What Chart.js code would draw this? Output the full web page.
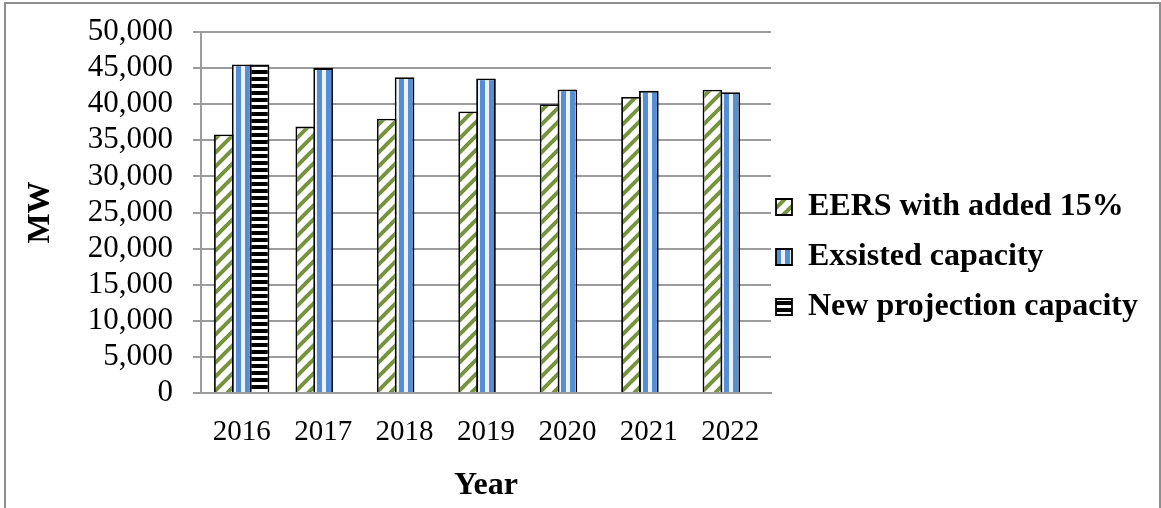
<!DOCTYPE html>
<html>
<head>
<meta charset="utf-8">
<script src="https://cdn.jsdelivr.net/npm/chart.js@4/dist/chart.umd.min.js"></script>
<style>
  html, body { margin: 0; padding: 0; background: #fff; overflow: hidden; }
  #wrap { position: relative; width: 1161px; height: 508px; }
  #frame { position: absolute; left: 4px; top: 2px; width: 1157px; height: 560px; box-sizing: border-box; border: 2px solid #8e8e8e; }
  #chart { position: absolute; left: 0; top: 0; }
</style>
</head>
<body>
<div id="wrap">
  <div id="frame"></div>
  <canvas id="chart" width="1161" height="508"></canvas>
</div>
<script>
// Capacity vs. demand, MW per year
const years = ['2016', '2017', '2018', '2019', '2020', '2021', '2022'];
const eersValues = [35800, 36900, 38000, 39000, 40000, 41000, 42000];
const existedValues = [45500, 45000, 43750, 43550, 42050, 41850, 41650];
const newProjectionValues = [45500, null, null, null, null, null, null];
const seriesNames = ['EERS with added 15%', 'Exsisted capacity', 'New projection capacity'];
const yMin = 0, yMax = 50000, yStep = 5000;

const GROUP = 0.658;   // categoryPercentage
const BAR = 1.1;       // bars overlap a little so borders are shared
const BORDER = 1.8;

Chart.defaults.font.family = "'Times New Roman', 'Liberation Serif', serif";
Chart.defaults.color = '#000';

// small repeating tiles for the hatched fills
function makeTile(kind) {
    const c = document.createElement('canvas');
    const g = c.getContext('2d');
    if (kind === 'diag') {
        c.width = c.height = 14;
        g.fillStyle = '#fff';
        g.fillRect(0, 0, 14, 14);
        g.strokeStyle = '#77933C';
        g.lineWidth = 4;
        g.beginPath();
        [-14, 0, 14].forEach(o => { g.moveTo(o - 1, 15); g.lineTo(o + 15, -1); });
        g.stroke();
    } else if (kind === 'vert') {
        c.width = 9; c.height = 1;
        g.fillStyle = '#EEF3FA';
        g.fillRect(0, 0, 9, 1);
        g.fillStyle = '#558ED5';
        g.fillRect(4, 0, 5, 1);
    } else {
        c.width = 1; c.height = 7;
        g.fillStyle = '#fff';
        g.fillRect(0, 0, 1, 7);
        g.fillStyle = '#000';
        g.fillRect(0, 0, 1, 4);
    }
    return c;
}
const tiles = { diag: makeTile('diag'), vert: makeTile('vert'), horiz: makeTile('horiz') };

// pattern lined up with the left edge of each bar
function fillFor(kind) {
    return (c) => {
        const pat = c.chart.ctx.createPattern(tiles[kind], 'repeat');
        if (c.type !== 'data') return pat;
        const x = c.chart.scales.x;
        if (!x || !x.width) return pat;
        const cat = x.width / years.length;
        const chunk = cat * GROUP / seriesNames.length;
        const left = x.getPixelForValue(c.dataIndex) - cat * GROUP / 2
            + chunk * c.datasetIndex - chunk * (BAR - 1) / 2 + BORDER;
        pat.setTransform(new DOMMatrix().translate(Math.round(left) - 2, 0));
        return pat;
    };
}

// pull the legend column in closer to the plot
const legendShift = {
    id: 'legendShift',
    afterLayout(chart) {
        const lg = chart.legend;
        lg.left -= 13; lg.right -= 13;
        lg.top -= 12; lg.bottom -= 12;
    }
};

const gridColor = '#9c9c9c';

new Chart(document.getElementById('chart'), {
    type: 'bar',
    data: {
        labels: years,
        datasets: [
            { label: seriesNames[0], data: eersValues, backgroundColor: fillFor('diag') },
            { label: seriesNames[1], data: existedValues, backgroundColor: fillFor('vert') },
            { label: seriesNames[2], data: newProjectionValues, backgroundColor: fillFor('horiz') }
        ]
    },
    options: {
        responsive: false,
        animation: false,
        layout: { padding: { left: 6, top: 32, right: 0, bottom: 2 } },
        datasets: {
            bar: {
                categoryPercentage: GROUP,
                barPercentage: BAR,
                borderColor: '#000',
                borderWidth: BORDER
            }
        },
        plugins: {
            tooltip: { enabled: false },
            legend: {
                position: 'right',
                maxWidth: 420,
                labels: {
                    font: { size: 32, weight: 'bold' },
                    boxWidth: 16,
                    boxHeight: 16,
                    padding: 18,
                    color: '#000'
                }
            }
        },
        scales: {
            x: {
                grid: { display: false, drawTicks: false },
                border: { display: true, color: gridColor, width: 2 },
                ticks: { font: { size: 29 }, padding: 22, color: '#000' },
                title: {
                    display: true,
                    text: 'Year',
                    font: { size: 32, weight: 'bold' },
                    padding: { top: 0, bottom: 1 },
                    color: '#000'
                },
                afterFit: (scale) => { scale.height = 113; }
            },
            y: {
                min: yMin,
                max: yMax,
                grid: { color: gridColor, lineWidth: 2, tickLength: 8 },
                border: { display: true, color: gridColor, width: 2 },
                ticks: {
                    stepSize: yStep,
                    autoSkip: false,
                    font: { size: 31 },
                    padding: 20,
                    color: '#000',
                    callback: (v) => v.toLocaleString('en-US')
                },
                title: {
                    display: true,
                    text: 'MW',
                    font: { size: 32, weight: 'bold' },
                    padding: { top: 16, bottom: 0 },
                    color: '#000'
                },
                afterFit: (scale) => {
                    scale.width = 195;
                    scale.paddingTop = 0;
                    scale.paddingBottom = 0;
                }
            }
        }
    },
    plugins: [legendShift]
});
</script>
</body>
</html>
